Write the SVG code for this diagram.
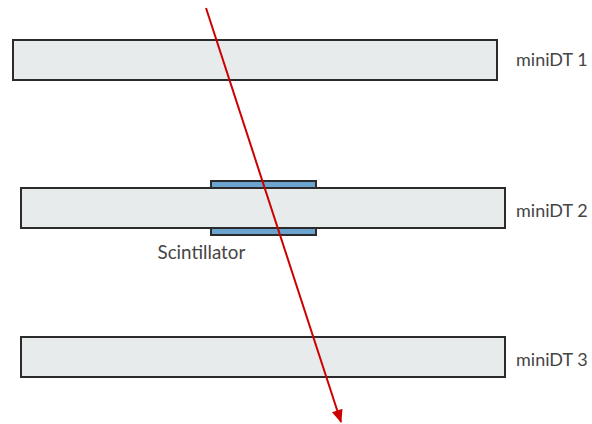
<svg xmlns="http://www.w3.org/2000/svg" width="592" height="424" viewBox="0 0 592 424">
<style>
.dt{fill:#e8ebec;stroke:#2b2b2b;stroke-width:2}
.sc{fill:#6aa4cf;stroke:#2b2b2b;stroke-width:2}
.lbl{font-family:Lato,"Liberation Sans",sans-serif;font-size:18px;fill:#454545}
</style>
<defs>
<marker id="ah" viewBox="0 0 12 10" refX="11" refY="5" markerWidth="7" markerHeight="5.5" orient="auto" markerUnits="strokeWidth">
<path d="M0,0 L12,5 L0,10 z" fill="#cc0000"/>
</marker>
</defs>
<rect width="592" height="424" fill="#ffffff"/>
<g id="miniDT1">
<rect class="dt" x="13" y="40" width="484" height="40"/>
<text class="lbl" x="516" y="66">miniDT 1</text>
</g>
<g id="miniDT2">
<rect class="dt" x="21" y="188" width="484" height="40"/>
<text class="lbl" x="516" y="216.5">miniDT 2</text>
</g>
<g id="scintillator">
<rect class="sc" x="211" y="181" width="105" height="7"/>
<rect class="sc" x="211" y="228" width="105" height="7"/>
<text class="lbl" x="157.5" y="259" style="font-size:18.8px">Scintillator</text>
</g>
<g id="miniDT3">
<rect class="dt" x="21" y="337" width="484" height="40"/>
<text class="lbl" x="516" y="366">miniDT 3</text>
</g>
<g id="connectors">
<line x1="206" y1="8" x2="341" y2="422" stroke="#cc0000" stroke-width="2" marker-end="url(#ah)"/>
</g>
</svg>
